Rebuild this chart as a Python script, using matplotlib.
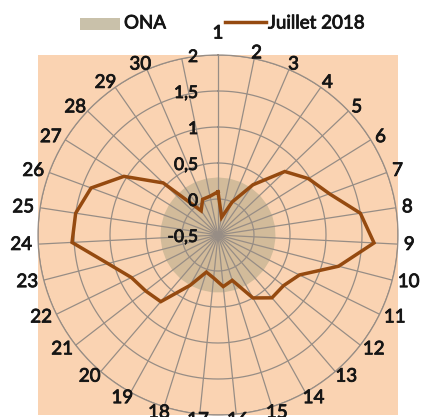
import numpy as np
import matplotlib
matplotlib.use("Agg")
import matplotlib.pyplot as plt
import matplotlib.patheffects as pe
from matplotlib.patches import Rectangle
from matplotlib.lines import Line2D
from matplotlib.transforms import offset_copy

plt.rcParams['font.family'] = ['Lato', 'DejaVu Sans']

# Categories: days of July (the 31st spoke carries no label)
days = [str(d) for d in range(1, 31)] + ['']

# Reference band (ONA) and July 2018 series
ona = [0.30, 0.30, 0.30, 0.30, 0.30, 0.30, 0.30, 0.30, 0.30, 0.30, 0.30,
       0.30, 0.30, 0.30, 0.30, 0.30, 0.30, 0.30, 0.30, 0.30, 0.30, 0.30,
       0.30, 0.30, 0.30, 0.30, 0.30, 0.30, 0.30, 0.30, 0.30]
juillet_2018 = [0.10, -0.25, 0.00, 0.35, 0.78, 0.98, 1.15, 1.50, 1.67, 1.23,
                0.76, 0.65, 0.65, 0.50, 0.16, 0.22, 0.10, 0.04, 0.30, 0.72,
                0.77, 0.84, 1.08, 1.53, 1.50, 1.38, 1.04, 0.55, -0.09, 0.04,
                0.05]

r_ticks = [-0.5, 0, 0.5, 1, 1.5, 2]
r_tick_labels = ['-0,5', '0', '0,5', '1', '1,5', '2']

W, H = 421, 417
fig = plt.figure(figsize=(W / 100, H / 100), dpi=100)
fig.patch.set_facecolor('white')

cx, cy, R = 218, 235, 180  # pixel centre and radius of the radar

peach = '#FAD3B2'
ona_col = '#D2BB9A'
line_col = '#954A10'
grid_col = '#978D85'
text_col = '#151515'
thick = [pe.withStroke(linewidth=0.6, foreground=text_col)]

# plot-area background square
fig.add_artist(Rectangle(((cx - R) / W, (H - cy - R) / H), 2 * R / W, 2 * R / H,
                         transform=fig.transFigure, facecolor=peach,
                         edgecolor='none', zorder=0))

ax = fig.add_axes([(cx - R) / W, (H - cy - R) / H, 2 * R / W, 2 * R / H],
                  projection='polar')
ax.set_facecolor('none')
ax.set_theta_zero_location('N')
ax.set_theta_direction(-1)
ax.set_ylim(-0.5, 2)

n = len(days)
theta = np.arange(n) * 2 * np.pi / n

ax.set_xticks(theta)
ax.set_xticklabels([])
ax.set_yticks(r_ticks[1:])
ax.set_yticklabels([])
ax.grid(False)
ax.spines['polar'].set_color(grid_col)
ax.spines['polar'].set_linewidth(0.9)

# ONA filled area
th_closed = np.append(theta, theta[0])
ax.fill(th_closed, ona + ona[:1], color=ona_col, linewidth=0, zorder=1)

# gridlines drawn over the area fill
for t in theta:
    ax.plot([t, t], [-0.5, 2], color=grid_col, linewidth=0.9, zorder=2)
circ = np.linspace(0, 2 * np.pi, 361)
for rv in r_ticks[1:]:
    ax.plot(circ, np.full_like(circ, rv), color=grid_col, linewidth=0.9, zorder=2)

# July 2018 line
ax.plot(th_closed, juillet_2018 + juillet_2018[:1], color=line_col,
        linewidth=2.5, solid_joinstyle='miter', zorder=3)

# category labels around the rim: pushed out sideways by half their width
for i, (t, lab) in enumerate(zip(theta, days)):
    if not lab:
        continue
    half_w = 5.5 * len(lab)
    dx = (R + 6 + half_w) * np.sin(t)
    dy = -(R + 6) * np.cos(t)
    if i == 0:
        dy = -(R + 22)
    fig.text((cx + dx) / W, 1 - (cy + dy) / H, lab, ha='center', va='center',
             fontsize=13.5, color=text_col, path_effects=thick)

# value-axis labels left of the vertical spoke
tr = offset_copy(ax.transData, fig=fig, x=-20, y=-2, units='dots')
for rv, lab in zip(r_ticks, r_tick_labels):
    ax.text(0, rv, lab, transform=tr, ha='right', va='center', fontsize=12.5,
            color=text_col, zorder=4, path_effects=thick)

# legend
fig.add_artist(Rectangle((80 / W, 1 - 30 / H), 40 / W, 12 / H,
                         transform=fig.transFigure, facecolor='#C9C1AA',
                         edgecolor='none'))
fig.text(124 / W, 1 - 23 / H, 'ONA', ha='left', va='center', fontsize=13.5,
         color=text_col, path_effects=thick)
fig.add_artist(Line2D([225 / W, 266 / W], [1 - 22 / H, 1 - 22 / H],
                      transform=fig.transFigure, color=line_col, linewidth=2.5))
fig.text(268 / W, 1 - 23 / H, 'Juillet 2018', ha='left', va='center',
         fontsize=13.5, color=text_col, path_effects=thick)

fig.savefig('out.png', dpi=100)
